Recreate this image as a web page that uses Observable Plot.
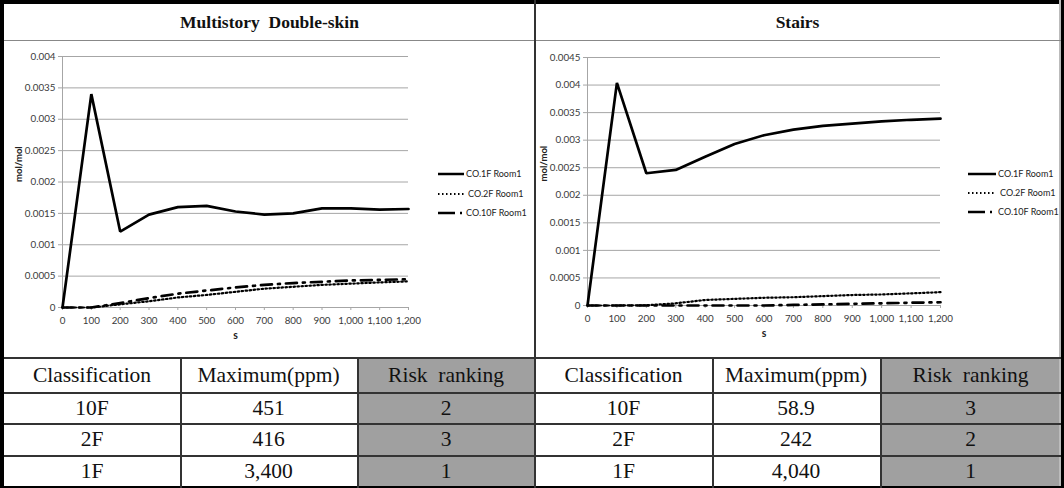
<!DOCTYPE html>
<html><head><meta charset="utf-8">
<script src="https://cdn.jsdelivr.net/npm/d3@7"></script>
<script src="https://cdn.jsdelivr.net/npm/@observablehq/plot@0.6"></script>
<style>
html,body{margin:0;padding:0;background:#fff;}
#wrap{position:relative;width:1064px;height:488px;overflow:hidden;background:#fff;}
.ln{position:absolute;}
.title{position:absolute;top:4px;height:36px;line-height:36px;text-align:center;font-family:"Liberation Serif",serif;font-weight:bold;font-size:17.5px;white-space:pre;color:#111;}
.cell{position:absolute;text-align:center;font-family:"Liberation Serif",serif;font-size:21.5px;white-space:pre;color:#111;}
.chart{position:absolute;}
.chart svg{overflow:visible;}
.leg{position:absolute;font-family:Lato,sans-serif;font-size:9px;color:#222;white-space:pre;}
</style></head>
<body><div id="wrap"></div>
<script>
// ---- data ----
const time = [0,100,200,300,400,500,600,700,800,900,1000,1100,1200];
const xTicks = [0,100,200,300,400,500,600,700,800,900,1000,1100,1200];
const md1F  = [0,0.0034,0.00121,0.00148,0.0016,0.00162,0.00153,0.00148,0.0015,0.00158,0.00158,0.00156,0.00157];
const md2F  = [0,0,0.00005,0.0001,0.00016,0.0002,0.00025,0.0003,0.00033,0.00036,0.00038,0.0004,0.000416];
const md10F = [0,0,0.00007,0.00015,0.00022,0.00027,0.00032,0.00036,0.00039,0.00041,0.00043,0.00044,0.000451];
const st1F  = [0,0.00404,0.0024,0.00246,0.0027,0.00293,0.00309,0.00319,0.00326,0.0033,0.00334,0.00337,0.00339];
const st2F  = [0,0,0.000005,0.00004,0.0001,0.00012,0.00014,0.00015,0.00017,0.00019,0.0002,0.00022,0.000242];
const st10F = [0,0,0,0,0,0,0,0.00001,0.00002,0.00003,0.00004,0.00005,0.0000589];
const yTicks1 = [0,0.0005,0.001,0.0015,0.002,0.0025,0.003,0.0035,0.004];
const yTicks2 = [0,0.0005,0.001,0.0015,0.002,0.0025,0.003,0.0035,0.004,0.0045];
const seriesNames = ["CO.1F Room1","CO.2F Room1","CO.10F Room1"];
const titles = ["Multistory  Double-skin","Stairs"];
const xLabel = "s", yLabel = "mol/mol";
const tableHeader = ["Classification","Maximum(ppm)","Risk  ranking"];
const classes = ["10F","2F","1F"];
const mdMax = ["451","416","3,400"];
const mdRank = ["2","3","1"];
const stMax = ["58.9","242","4,040"];
const stRank = ["3","2","1"];

const wrap = document.getElementById("wrap");
function box(l,t,w,h,bg){const d=document.createElement("div");d.className="ln";Object.assign(d.style,{left:l+"px",top:t+"px",width:w+"px",height:h+"px",background:bg});wrap.appendChild(d);return d;}

// gray fills
box(357,358,178,130,"#a0a0a0");
box(880,358,181,130,"#a0a0a0");

// titles
titles.forEach((t,i)=>{const d=document.createElement("div");d.className="title";d.textContent=t;d.style.left=(i?535:4)+"px";d.style.width=(i?525:531)+"px";wrap.appendChild(d);});

// table cells
const colsL=[4,180,357,535], colsR=[535,712,880,1061];
const rowsY=[358,392,424,455,487];
function fillTable(cols, maxv, rank){
  const rows=[tableHeader, ...classes.map((c,i)=>[c,maxv[i],rank[i]])];
  rows.forEach((r,ri)=>r.forEach((txt,ci)=>{
    const d=document.createElement("div");d.className="cell";d.textContent=txt;
    Object.assign(d.style,{left:cols[ci]+"px",width:(cols[ci+1]-cols[ci])+"px",top:rowsY[ri]+"px",height:(rowsY[ri+1]-rowsY[ri])+"px",lineHeight:(rowsY[ri+1]-rowsY[ri])+"px"});
    wrap.appendChild(d);
  }));
}
fillTable(colsL, mdMax, mdRank);
fillTable(colsR, stMax, stRank);

// charts
function chart(s1,s2,s10,yTicks,ymax,w,h,ml,mr,mt,mb){
  const data=time.map((t,i)=>({t,a:s1[i],b:s2[i],c:s10[i]}));
  return Plot.plot({
    width:w,height:h,marginLeft:ml,marginRight:mr,marginTop:mt,marginBottom:mb,
    style:{fontFamily:"Lato, sans-serif",fontSize:"9.8px",color:"#3a3a3a",background:"transparent",overflow:"visible"},
    x:{domain:[0,1200]},
    y:{domain:[0,ymax]},
    marks:[
      Plot.gridY(yTicks,{stroke:"#a6a6a6",strokeOpacity:1,strokeWidth:1}),
      Plot.ruleX([0],{stroke:"#a6a6a6"}),
      Plot.ruleY([0],{stroke:"#a6a6a6"}),
      Plot.axisY(yTicks,{tickSize:4,tickPadding:3,stroke:"#a6a6a6",tickFormat:d=>String(d),label:null}),
      Plot.axisX(xTicks,{tickSize:3,tickPadding:7,stroke:"#a6a6a6",tickFormat:d3.format(","),label:null}),
      Plot.text([xLabel],{text:d=>d,frameAnchor:"bottom",dy:31,fontWeight:"bold",fontSize:10.5,fill:"#222"}),
      Plot.text([yLabel],{text:d=>d,frameAnchor:"left",dx:-44,rotate:-90,fontWeight:"bold",fontSize:9.5,fill:"#222"}),
      Plot.line(data,{x:"t",y:"c",stroke:"black",strokeWidth:2.7,strokeDasharray:"11,6,2,6"}),
      Plot.line(data,{x:"t",y:"b",stroke:"black",strokeWidth:2.2,strokeDasharray:"1.5,2.5"}),
      Plot.line(data,{x:"t",y:"a",stroke:"black",strokeWidth:2.7,strokeLinejoin:"miter"})
    ]
  });
}
function place(el,l,t){const d=document.createElement("div");d.className="chart";d.style.left=l+"px";d.style.top=t+"px";d.appendChild(el);wrap.appendChild(d);}
place(chart(md1F,md2F,md10F,yTicks1,0.004,530,316,58,126,15,50),4,41);
place(chart(st1F,st2F,st10F,yTicks2,0.0045,524,316,51,120,16,52),536,41);

// legends
const dashes=[null,"1.5,2.5","17,5,2,10"], widths=[2.5,2,2.5];
function legend(x0,x1,tx,ys){
  seriesNames.forEach((n,i)=>{
    const s=document.createElementNS("http://www.w3.org/2000/svg","svg");
    s.setAttribute("width",x1-x0);s.setAttribute("height",6);
    s.style.position="absolute";s.style.left=x0+"px";s.style.top=(ys[i]-3)+"px";
    const l=document.createElementNS("http://www.w3.org/2000/svg","line");
    l.setAttribute("x1",0);l.setAttribute("x2",x1-x0);l.setAttribute("y1",3);l.setAttribute("y2",3);
    l.setAttribute("stroke","black");l.setAttribute("stroke-width",widths[i]);
    if(dashes[i])l.setAttribute("stroke-dasharray",dashes[i]);
    s.appendChild(l);wrap.appendChild(s);
    const d=document.createElement("div");d.className="leg";d.textContent=n;
    d.style.left=(tx+(i==1?2:0))+"px";d.style.top=(ys[i]-6.5)+"px";wrap.appendChild(d);
  });
}
legend(438,464,466,[174,194,213]);
legend(968,996,998,[174,193,212]);

// frame lines
box(0,0,1064,4,"#000");       // top
box(0,0,4,488,"#000");        // left
box(1061,0,3,488,"#000");     // right
box(1059,0,2,488,"#bbb");
box(0,486,1064,2,"#000");     // bottom
box(4,40,1057,1,"#888");      // under titles
box(534,0,2,488,"#333");      // middle
box(4,357,1057,2,"#333");     // chart bottom
[392,423,455].forEach(y=>box(4,y,1057,1.5,"#333"));
[180,357,712,880].forEach(x=>box(x,358,1.5,130,"#333"));
</script></body></html>
